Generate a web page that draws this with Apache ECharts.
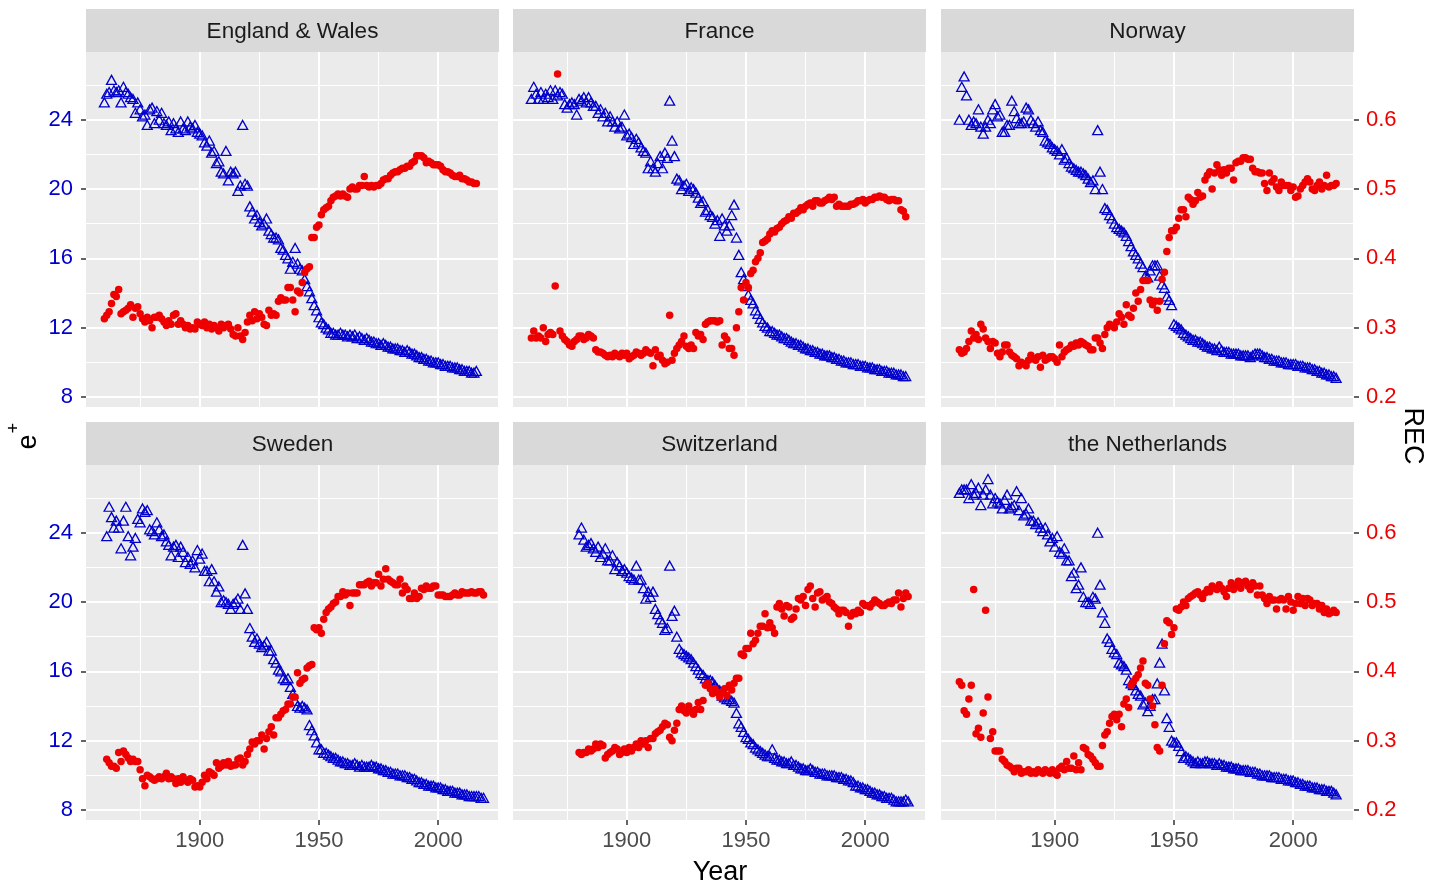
<!DOCTYPE html>
<html>
<head>
<meta charset="utf-8">
<script src="https://cdn.jsdelivr.net/npm/echarts@6/dist/echarts.min.js"></script>
<style>
  html, body { margin: 0; padding: 0; background: #fff; }
  #main { width: 1439px; height: 885px; }
</style>
</head>
<body>
<div id="main"></div>
<script>
// facet names and first year of each country's series
const countries = ['England & Wales', 'France', 'Norway', 'Sweden', 'Switzerland', 'the Netherlands'];
const startYears = [1860, 1860, 1860, 1861, 1880, 1860];

// e+ (left axis), one value per year
const eplusEW = [
  25.0, 25.5, 25.6, 26.3, 25.7, 25.6, 25.7, 25.0, 25.9, 25.6,
  25.5, 25.3, 25.2, 24.4, 25.0, 24.6, 24.2, 24.3, 23.7, 24.6,
  24.7, 23.8, 24.5, 24.0, 24.4, 23.8, 23.7, 23.9, 23.4, 23.8,
  23.5, 23.3, 23.9, 23.5, 23.4, 23.9, 23.6, 23.5, 23.7, 23.3,
  23.2, 23.1, 22.7, 22.5, 22.8, 22.1, 22.2, 21.5, 21.6, 21.0,
  20.9, 22.2, 20.5, 21.0, 20.9, 21.0, 19.9, 20.2, 23.7, 20.3,
  20.2, 19.0, 18.7, 18.3, 18.5, 18.1, 17.9, 18.0, 18.3, 17.6,
  17.4, 17.2, 17.2, 17.1, 16.6, 16.5, 16.2, 16.0, 15.4, 15.8,
  16.6, 15.7, 15.4, 15.3, 14.8, 14.4, 14.1, 13.7, 13.3, 13.0,
  12.6, 12.3, 12.2, 12.0, 11.9, 11.7, 11.7, 11.6, 11.6, 11.7,
  11.6, 11.6, 11.5, 11.6, 11.5, 11.6, 11.4, 11.5, 11.4, 11.3,
  11.4, 11.3, 11.2, 11.2, 11.1, 11.1, 11.0, 11.1, 11.0, 10.9,
  10.9, 10.8, 10.8, 10.8, 10.7, 10.7, 10.6, 10.7, 10.6, 10.5,
  10.5, 10.4, 10.3, 10.3, 10.2, 10.2, 10.1, 10.1, 10.0, 10.0,
  10.0, 9.9, 9.9, 9.8, 9.8, 9.8, 9.7, 9.7, 9.7, 9.6,
  9.6, 9.5, 9.5, 9.5, 9.4, 9.4, 9.5
];
const eplusFR = [
  25.2, 25.9, 25.5, 25.2, 25.6, 25.2, 25.5, 25.3, 25.7, 25.2,
  25.7, 25.4, 25.6, 25.5, 24.9, 24.7, 24.9, 25.0, 24.9, 24.3,
  25.2, 25.1, 25.3, 25.0, 25.3, 25.0, 24.8, 24.8, 24.4, 24.6,
  24.2, 24.4, 23.9, 24.2, 23.9, 23.6, 23.9, 23.5, 23.6, 24.3,
  23.1, 23.2, 23.0, 22.6, 22.9, 22.7, 22.4, 22.2, 22.1, 21.2,
  21.6, 21.2, 21.0, 21.5, 21.9, 21.2, 22.1, 21.8, 25.1, 22.8,
  21.9, 20.6, 20.5, 20.0, 20.2, 20.3, 19.9, 20.1, 20.0, 19.8,
  19.5, 19.2, 19.3, 18.7, 18.8, 18.5, 18.4, 18.0, 18.2, 17.3,
  18.3, 17.9, 17.6, 17.9, 18.5, 19.1, 17.2, 16.2, 15.2, 14.8,
  14.4, 13.9, 13.6, 13.4, 13.0, 12.8, 12.5, 12.3, 12.1, 12.0,
  11.8, 11.8, 11.7, 11.6, 11.6, 11.5, 11.4, 11.4, 11.3, 11.2,
  11.1, 11.1, 11.0, 11.0, 10.9, 10.8, 10.8, 10.7, 10.7, 10.6,
  10.6, 10.5, 10.5, 10.4, 10.4, 10.4, 10.3, 10.3, 10.2, 10.2,
  10.1, 10.1, 10.0, 10.0, 10.0, 9.9, 9.9, 9.9, 9.8, 9.8,
  9.8, 9.7, 9.7, 9.7, 9.6, 9.6, 9.6, 9.5, 9.5, 9.5,
  9.4, 9.4, 9.4, 9.3, 9.3, 9.3, 9.2, 9.2
];
const eplusNO = [
  24.0, 25.9, 26.5, 25.4, 24.0, 23.7, 23.9, 23.8, 24.6, 23.6,
  23.2, 23.6, 24.0, 23.8, 24.6, 24.9, 24.2, 24.3, 23.3, 23.3,
  23.7, 23.7, 25.1, 24.5, 24.1, 23.8, 23.8, 23.9, 24.7, 24.6,
  24.0, 23.8, 23.6, 23.9, 23.4, 23.3, 22.8, 22.7, 22.6, 22.4,
  22.3, 22.2, 22.0, 22.3, 21.7, 21.8, 21.5, 21.3, 21.2, 21.1,
  21.0, 21.0, 20.9, 20.8, 20.6, 20.4, 20.5, 20.0, 23.4, 21.0,
  20.0, 18.9, 18.8, 18.5, 18.3, 18.0, 17.8, 17.7, 17.6, 17.5,
  17.3, 17.0, 16.7, 16.4, 16.2, 16.0, 15.7, 15.5, 15.0, 14.9,
  15.3, 15.6, 15.6, 15.6, 15.0, 14.5, 14.3, 13.8, 13.6, 13.3,
  12.2, 12.1, 12.0, 11.9, 11.7, 11.6, 11.5, 11.4, 11.3, 11.3,
  11.2, 11.2, 11.1, 11.0, 10.9, 10.9, 10.8, 10.8, 10.7, 10.9,
  10.7, 10.6, 10.6, 10.6, 10.5, 10.5, 10.5, 10.5, 10.4, 10.4,
  10.4, 10.4, 10.3, 10.4, 10.5, 10.5, 10.5, 10.4, 10.3, 10.3,
  10.2, 10.2, 10.1, 10.1, 10.1, 10.0, 10.0, 10.0, 9.9, 9.9,
  9.9, 9.9, 9.8, 9.8, 9.8, 9.7, 9.7, 9.7, 9.6, 9.6,
  9.5, 9.5, 9.4, 9.4, 9.3, 9.3, 9.2, 9.2, 9.1
];
const eplusSE = [
  23.8, 25.5, 24.9, 24.3, 24.7, 24.3, 23.1, 24.7, 25.5,
  23.8, 22.7, 23.2, 23.7, 24.8, 24.6, 25.4, 25.2, 25.3, 24.2,
  24.1, 23.9, 24.6, 24.2, 23.8, 23.9, 23.5, 23.3, 22.7, 23.2,
  23.3, 22.6, 23.2, 22.9, 22.3, 22.6, 22.2, 22.4, 22.0, 23.0,
  22.5, 22.8, 21.8, 21.8, 21.2, 21.9, 21.2, 20.6, 20.9, 20.0,
  20.1, 20.0, 19.9, 19.6, 19.9, 20.0, 20.2, 19.6, 23.3, 20.5,
  19.6, 18.5, 18.0, 17.7, 17.9, 17.6, 17.4, 17.5, 17.7, 17.2,
  17.2, 16.7, 16.5, 16.1, 16.0, 15.6, 15.5, 15.6, 15.1, 14.7,
  14.3, 14.0, 13.9, 14.0, 13.9, 13.8, 12.9, 12.6, 12.3, 11.9,
  11.5, 11.5, 11.3, 11.3, 11.2, 11.1, 11.0, 11.0, 10.9, 10.8,
  10.8, 10.7, 10.7, 10.6, 10.6, 10.7, 10.6, 10.5, 10.6, 10.5,
  10.5, 10.5, 10.6, 10.5, 10.5, 10.4, 10.4, 10.3, 10.3, 10.2,
  10.2, 10.1, 10.1, 10.1, 10.0, 10.0, 10.0, 9.9, 9.9, 9.8,
  9.8, 9.7, 9.6, 9.6, 9.5, 9.5, 9.4, 9.4, 9.4, 9.3,
  9.3, 9.3, 9.2, 9.2, 9.1, 9.1, 9.1, 9.0, 9.0, 9.0,
  8.9, 8.9, 8.9, 8.8, 8.8, 8.8, 8.8, 8.8, 8.7, 8.7
];
const eplusCH = [
  23.9, 24.3, 23.6, 23.2, 23.3, 23.4, 23.1, 22.9, 23.2, 22.6,
  22.8, 23.1, 22.4, 22.4, 22.7, 21.9, 22.3, 22.1, 21.8, 21.9,
  21.7, 21.5, 21.4, 21.3, 22.1, 21.3, 21.3, 20.8, 20.2, 20.6,
  20.3, 20.6, 19.6, 19.3, 19.0, 18.8, 18.4, 18.5, 22.1, 19.2,
  19.5, 18.0, 17.3, 17.1, 17.0, 16.9, 16.8, 16.7, 16.5, 16.3,
  16.1, 15.9, 15.8, 15.6, 15.5, 15.5, 15.4, 15.2, 15.0, 14.9,
  14.6, 14.5, 14.4, 14.4, 14.3, 14.2, 13.6, 13.0, 12.8, 12.5,
  12.2, 12.1, 11.9, 11.8, 11.6, 11.5, 11.4, 11.3, 11.2, 11.1,
  11.1, 11.5, 11.0, 10.9, 10.9, 10.8, 10.8, 10.7, 10.7, 10.8,
  10.6, 10.6, 10.5, 10.4, 10.4, 10.3, 10.3, 10.4, 10.3, 10.2,
  10.2, 10.1, 10.1, 10.1, 10.0, 10.0, 10.0, 10.0, 9.9, 9.9,
  9.9, 9.8, 9.8, 9.7, 9.7, 9.6, 9.4, 9.4, 9.3, 9.3,
  9.2, 9.2, 9.1, 9.0, 9.0, 8.9, 8.9, 8.8, 8.8, 8.7,
  8.7, 8.7, 8.6, 8.5, 8.5, 8.5, 8.5, 8.6, 8.5
];
const eplusNL = [
  26.3, 26.5, 26.5, 26.5, 26.0, 26.8, 26.2, 26.3, 26.6, 25.6,
  26.2, 26.5, 27.1, 26.2, 25.7, 26.0, 25.8, 25.7, 25.4, 25.9,
  26.2, 25.4, 25.5, 25.6, 26.4, 25.3, 26.0, 25.0, 25.1, 25.4,
  24.7, 24.7, 24.5, 24.6, 24.3, 24.1, 24.3, 23.9, 23.5, 23.7,
  23.2, 23.8, 22.9, 22.8, 23.1, 22.4, 22.4, 21.5, 21.7, 20.8,
  21.0, 22.0, 20.3, 20.0, 20.0, 19.9, 20.3, 20.2, 24.0, 21.0,
  19.4, 18.8, 17.9, 17.7, 17.3, 17.1, 17.0, 16.5, 16.4, 16.3,
  16.1, 15.5, 15.3, 15.2, 14.9, 14.7, 14.6, 14.1, 14.2, 13.7,
  14.0, 14.4, 14.4, 15.3, 16.5, 17.6, 14.9, 13.3, 12.8, 12.0,
  11.9, 11.9, 11.7, 11.4, 11.0, 11.1, 11.0, 10.9, 10.8, 10.7,
  10.8, 10.7, 10.7, 10.8, 10.8, 10.7, 10.7, 10.7, 10.6, 10.7,
  10.6, 10.6, 10.5, 10.5, 10.5, 10.4, 10.4, 10.4, 10.3, 10.3,
  10.3, 10.3, 10.2, 10.2, 10.2, 10.1, 10.1, 10.0, 10.0, 10.0,
  10.0, 9.9, 9.9, 9.9, 9.9, 9.8, 9.8, 9.8, 9.7, 9.7,
  9.7, 9.6, 9.6, 9.5, 9.5, 9.4, 9.4, 9.4, 9.3, 9.3,
  9.3, 9.2, 9.2, 9.2, 9.1, 9.1, 9.1, 9.0, 8.9
];

// REC (right axis), one value per year
const recEW = [
  .313, .318, .323, .335, .348, .345, .355, .320, .323, .325,
  .328, .333, .315, .328, .330, .320, .313, .308, .315, .310,
  .300, .315, .315, .318, .313, .308, .303, .310, .305, .318,
  .320, .305, .310, .305, .300, .303, .298, .300, .298, .308,
  .305, .303, .308, .300, .305, .298, .303, .300, .295, .305,
  .300, .303, .305, .298, .290, .288, .300, .288, .283, .293,
  .308, .318, .310, .323, .313, .320, .315, .305, .303, .325,
  .318, .320, .318, .338, .343, .340, .340, .358, .358, .340,
  .323, .353, .350, .365, .380, .385, .388, .430, .430, .445,
  .448, .463, .470, .473, .475, .483, .488, .490, .493, .490,
  .493, .490, .488, .500, .503, .500, .500, .505, .505, .518,
  .505, .503, .505, .503, .505, .505, .508, .513, .515, .515,
  .520, .523, .525, .525, .528, .530, .530, .533, .533, .538,
  .540, .548, .548, .548, .545, .538, .540, .538, .535, .535,
  .535, .533, .528, .525, .525, .523, .520, .518, .518, .520,
  .515, .515, .513, .510, .510, .508, .508
];
const recFR = [
  .285, .295, .285, .288, .285, .300, .280, .290, .293, .290,
  .360, .666, .295, .288, .283, .280, .275, .273, .280, .283,
  .288, .288, .283, .285, .290, .288, .285, .268, .265, .265,
  .263, .260, .258, .260, .258, .263, .260, .258, .263, .260,
  .263, .255, .258, .260, .265, .263, .260, .263, .268, .265,
  .263, .245, .268, .258, .260, .253, .248, .250, .318, .253,
  .263, .270, .275, .280, .288, .273, .270, .275, .270, .293,
  .288, .290, .283, .305, .308, .310, .310, .310, .308, .310,
  .275, .288, .283, .270, .270, .260, .300, .323, .358, .340,
  .365, .358, .378, .383, .395, .400, .408, .423, .425, .428,
  .435, .440, .438, .443, .445, .450, .453, .455, .460, .458,
  .465, .465, .468, .473, .470, .475, .478, .480, .475, .483,
  .483, .480, .480, .483, .485, .488, .485, .488, .475, .478,
  .475, .475, .475, .475, .478, .478, .480, .483, .483, .485,
  .480, .483, .485, .485, .488, .488, .490, .488, .488, .485,
  .483, .485, .485, .483, .483, .470, .468, .460
];
const recNO = [
  .268, .263, .265, .270, .280, .295, .285, .290, .283, .305,
  .298, .285, .280, .270, .280, .278, .263, .258, .265, .275,
  .275, .265, .260, .258, .255, .245, .250, .248, .245, .253,
  .260, .255, .253, .258, .243, .260, .253, .255, .258, .258,
  .255, .250, .275, .258, .265, .268, .270, .275, .273, .278,
  .275, .280, .278, .275, .273, .268, .268, .285, .285, .278,
  .270, .290, .300, .305, .303, .300, .308, .320, .315, .305,
  .333, .318, .315, .328, .350, .338, .355, .368, .368, .368,
  .340, .333, .338, .325, .338, .370, .380, .410, .430, .440,
  .440, .445, .458, .470, .470, .460, .488, .485, .478, .483,
  .495, .488, .490, .513, .520, .525, .500, .523, .535, .528,
  .520, .528, .523, .530, .530, .513, .538, .540, .540, .545,
  .545, .543, .543, .530, .525, .525, .523, .523, .508, .498,
  .523, .510, .515, .503, .498, .510, .505, .505, .505, .498,
  .503, .488, .490, .500, .505, .510, .515, .510, .500, .498,
  .505, .510, .500, .505, .520, .503, .505, .505, .508
];
const recSE = [
  .273, .268, .263, .263, .260, .283, .270, .285, .280,
  .275, .270, .273, .270, .270, .258, .245, .235, .250, .248,
  .245, .243, .245, .248, .245, .248, .253, .245, .248, .245,
  .238, .245, .240, .248, .243, .240, .245, .243, .233, .235,
  .233, .240, .250, .245, .255, .253, .250, .268, .260, .263,
  .268, .265, .270, .263, .265, .265, .273, .275, .265, .270,
  .280, .288, .298, .295, .300, .300, .308, .288, .303, .313,
  .320, .308, .333, .333, .338, .343, .345, .353, .353, .363,
  .363, .398, .383, .388, .390, .405, .408, .410, .463, .460,
  .463, .455, .475, .485, .490, .493, .498, .500, .508, .508,
  .515, .510, .513, .495, .513, .513, .513, .525, .525, .525,
  .528, .530, .523, .528, .528, .540, .523, .533, .548, .533,
  .530, .528, .525, .525, .533, .513, .523, .518, .505, .505,
  .513, .505, .508, .520, .518, .523, .520, .520, .523, .523,
  .510, .510, .510, .508, .508, .508, .510, .513, .510, .510,
  .515, .513, .513, .513, .515, .513, .513, .515, .515, .510
];
const recCH = [
  .283, .280, .283, .283, .288, .285, .288, .295, .290, .295,
  .293, .275, .280, .283, .285, .290, .288, .280, .283, .288,
  .283, .290, .285, .290, .295, .290, .300, .295, .300, .290,
  .303, .303, .310, .313, .315, .320, .325, .323, .305, .300,
  .315, .325, .345, .350, .343, .340, .350, .343, .338, .345,
  .355, .345, .358, .380, .383, .375, .368, .375, .370, .363,
  .370, .375, .365, .380, .373, .383, .390, .390, .425, .423,
  .433, .433, .455, .440, .445, .455, .465, .465, .483, .463,
  .470, .463, .455, .493, .498, .490, .480, .495, .493, .475,
  .478, .490, .505, .503, .508, .495, .518, .523, .505, .493,
  .513, .515, .503, .505, .508, .500, .498, .493, .490, .483,
  .488, .488, .485, .465, .480, .485, .483, .488, .485, .498,
  .495, .495, .493, .498, .503, .500, .498, .495, .495, .498,
  .500, .498, .503, .503, .513, .493, .505, .513, .508
];
const recNL = [
  .385, .380, .343, .338, .360, .380, .518, .310, .318, .305,
  .340, .488, .363, .303, .313, .285, .285, .285, .273, .270,
  .265, .263, .260, .255, .260, .260, .253, .255, .255, .258,
  .253, .255, .253, .258, .255, .253, .258, .255, .253, .258,
  .253, .250, .260, .263, .258, .270, .260, .260, .278, .258,
  .268, .258, .290, .288, .280, .278, .273, .268, .263, .263,
  .293, .308, .313, .325, .335, .338, .330, .338, .320, .353,
  .360, .348, .380, .385, .390, .395, .405, .415, .383, .380,
  .360, .350, .323, .290, .285, .380, .440, .473, .470, .453,
  .463, .490, .488, .493, .500, .495, .505, .508, .510, .513,
  .515, .510, .505, .513, .518, .515, .523, .520, .518, .525,
  .520, .515, .508, .520, .528, .518, .523, .530, .520, .528,
  .530, .523, .518, .528, .523, .510, .523, .510, .505, .498,
  .508, .503, .503, .490, .503, .505, .503, .490, .508, .500,
  .488, .498, .508, .498, .505, .495, .505, .503, .495, .498,
  .498, .490, .495, .485, .490, .483, .485, .488, .485
];

// tick positions
const yearTicks = [1900, 1950, 2000];
const yearMinor = [1875, 1925, 1975, 2025];
const eplusTicks = [8, 12, 16, 20, 24];
const eplusMinor = [10, 14, 18, 22, 26];
const recTicks = [0.2, 0.3, 0.4, 0.5, 0.6];

const eplusData = [eplusEW, eplusFR, eplusNO, eplusSE, eplusCH, eplusNL];
const recData = [recEW, recFR, recNO, recSE, recCH, recNL];

const FONT = '"Liberation Sans", Arial, Helvetica, sans-serif';
const BLUE = '#0000CD';
const RED = '#EE0000';
const lefts = [86, 513, 941];
const tops = [52, 465];
const W = 413, H = 355;
const X_MIN = 1852.3, X_MAX = 2025.5;
const E_MIN = 7.42, E_MAX = 27.91;

const chart = echarts.init(document.getElementById('main'), null, { renderer: 'canvas' });

const grids = [], xAxes = [], yAxes = [], series = [], graphics = [];
const tickStyle = { color: '#333333', width: 1.5 };

countries.forEach((name, i) => {
  const col = i % 3, row = Math.floor(i / 3);
  const left = lefts[col], top = tops[row];
  grids.push({ left: left, top: top, width: W, height: H, show: true,
    backgroundColor: '#EBEBEB', borderWidth: 0 });

  // year axis with major grid, plus hidden one for minor grid
  xAxes.push({
    gridIndex: i, type: 'value', min: X_MIN, max: X_MAX,
    axisLine: { show: false },
    axisTick: { show: row === 1, customValues: yearTicks, length: 5, lineStyle: tickStyle },
    axisLabel: { show: row === 1, customValues: yearTicks, color: '#4D4D4D', fontSize: 22,
      fontFamily: FONT, margin: 10, formatter: v => String(v) },
    splitLine: { show: true, lineStyle: { color: '#FFFFFF', width: 2 } }
  });
  xAxes.push({
    gridIndex: i, type: 'value', min: X_MIN, max: X_MAX, position: 'bottom',
    axisLine: { show: false },
    axisTick: { show: false, customValues: yearMinor },
    axisLabel: { show: false },
    splitLine: { show: true, lineStyle: { color: '#FFFFFF', width: 1 } }
  });

  yAxes.push({
    gridIndex: i, type: 'value', position: 'left', min: E_MIN, max: E_MAX,
    axisLine: { show: false },
    axisTick: { show: col === 0, customValues: eplusTicks, length: 5, lineStyle: tickStyle },
    axisLabel: { show: col === 0, customValues: eplusTicks, color: BLUE, fontSize: 22,
      fontFamily: FONT, margin: 13 },
    splitLine: { show: true, lineStyle: { color: '#FFFFFF', width: 2 } }
  });
  yAxes.push({
    gridIndex: i, type: 'value', position: 'right', min: E_MIN / 40, max: E_MAX / 40,
    axisLine: { show: false },
    axisTick: { show: col === 2, customValues: recTicks, length: 5, lineStyle: tickStyle },
    axisLabel: { show: col === 2, customValues: recTicks, color: RED, fontSize: 22,
      fontFamily: FONT, margin: 12 },
    splitLine: { show: false }
  });
  yAxes.push({
    gridIndex: i, type: 'value', position: 'left', min: E_MIN, max: E_MAX,
    axisLine: { show: false },
    axisTick: { show: false, customValues: eplusMinor },
    axisLabel: { show: false },
    splitLine: { show: true, lineStyle: { color: '#FFFFFF', width: 1 } }
  });

  const y0 = startYears[i];
  series.push({
    type: 'scatter', name: name + ' e+',
    xAxisIndex: 2 * i, yAxisIndex: 3 * i,
    data: eplusData[i].map((v, k) => [y0 + k, v]),
    symbol: 'triangle', symbolSize: [10, 9],
    itemStyle: { color: 'rgba(0,0,0,0)', borderColor: BLUE, borderWidth: 1.3, opacity: 1 },
    emphasis: { disabled: true },
    silent: true, z: 2
  });
  series.push({
    type: 'scatter', name: name + ' REC',
    xAxisIndex: 2 * i, yAxisIndex: 3 * i + 1,
    data: recData[i].map((v, k) => [y0 + k, v]),
    symbol: 'circle', symbolSize: 7.5,
    itemStyle: { color: RED, opacity: 1 },
    emphasis: { disabled: true },
    silent: true, z: 3
  });

  // facet strip
  graphics.push({
    type: 'rect', shape: { x: left, y: top - 43, width: W, height: 43 },
    style: { fill: '#D9D9D9' }, silent: true
  });
  graphics.push({
    type: 'text', x: left + W / 2, y: top - 20.5,
    style: { text: name, fill: '#1A1A1A', fontSize: 22.5, fontFamily: FONT,
      align: 'center', verticalAlign: 'middle', textAlign: 'center', textVerticalAlign: 'middle' },
    silent: true
  });
});

// axis titles
function title(text, x, y, size, rot) {
  return {
    type: 'text', x: x, y: y, rotation: rot,
    style: { text: text, fill: '#000000', fontSize: size, fontFamily: FONT,
      align: 'center', verticalAlign: 'middle', textAlign: 'center', textVerticalAlign: 'middle' },
    silent: true
  };
}
graphics.push(title('Year', 720, 873, 27, 0));
graphics.push(title('REC', 1412, 436, 27, -Math.PI / 2));
graphics.push(title('e', 29, 442, 27, Math.PI / 2));
graphics.push(title('+', 14, 428, 18, Math.PI / 2));

chart.setOption({
  animation: false,
  backgroundColor: '#FFFFFF',
  textStyle: { fontFamily: FONT },
  grid: grids,
  xAxis: xAxes,
  yAxis: yAxes,
  series: series,
  graphic: graphics
});
</script>
</body>
</html>
